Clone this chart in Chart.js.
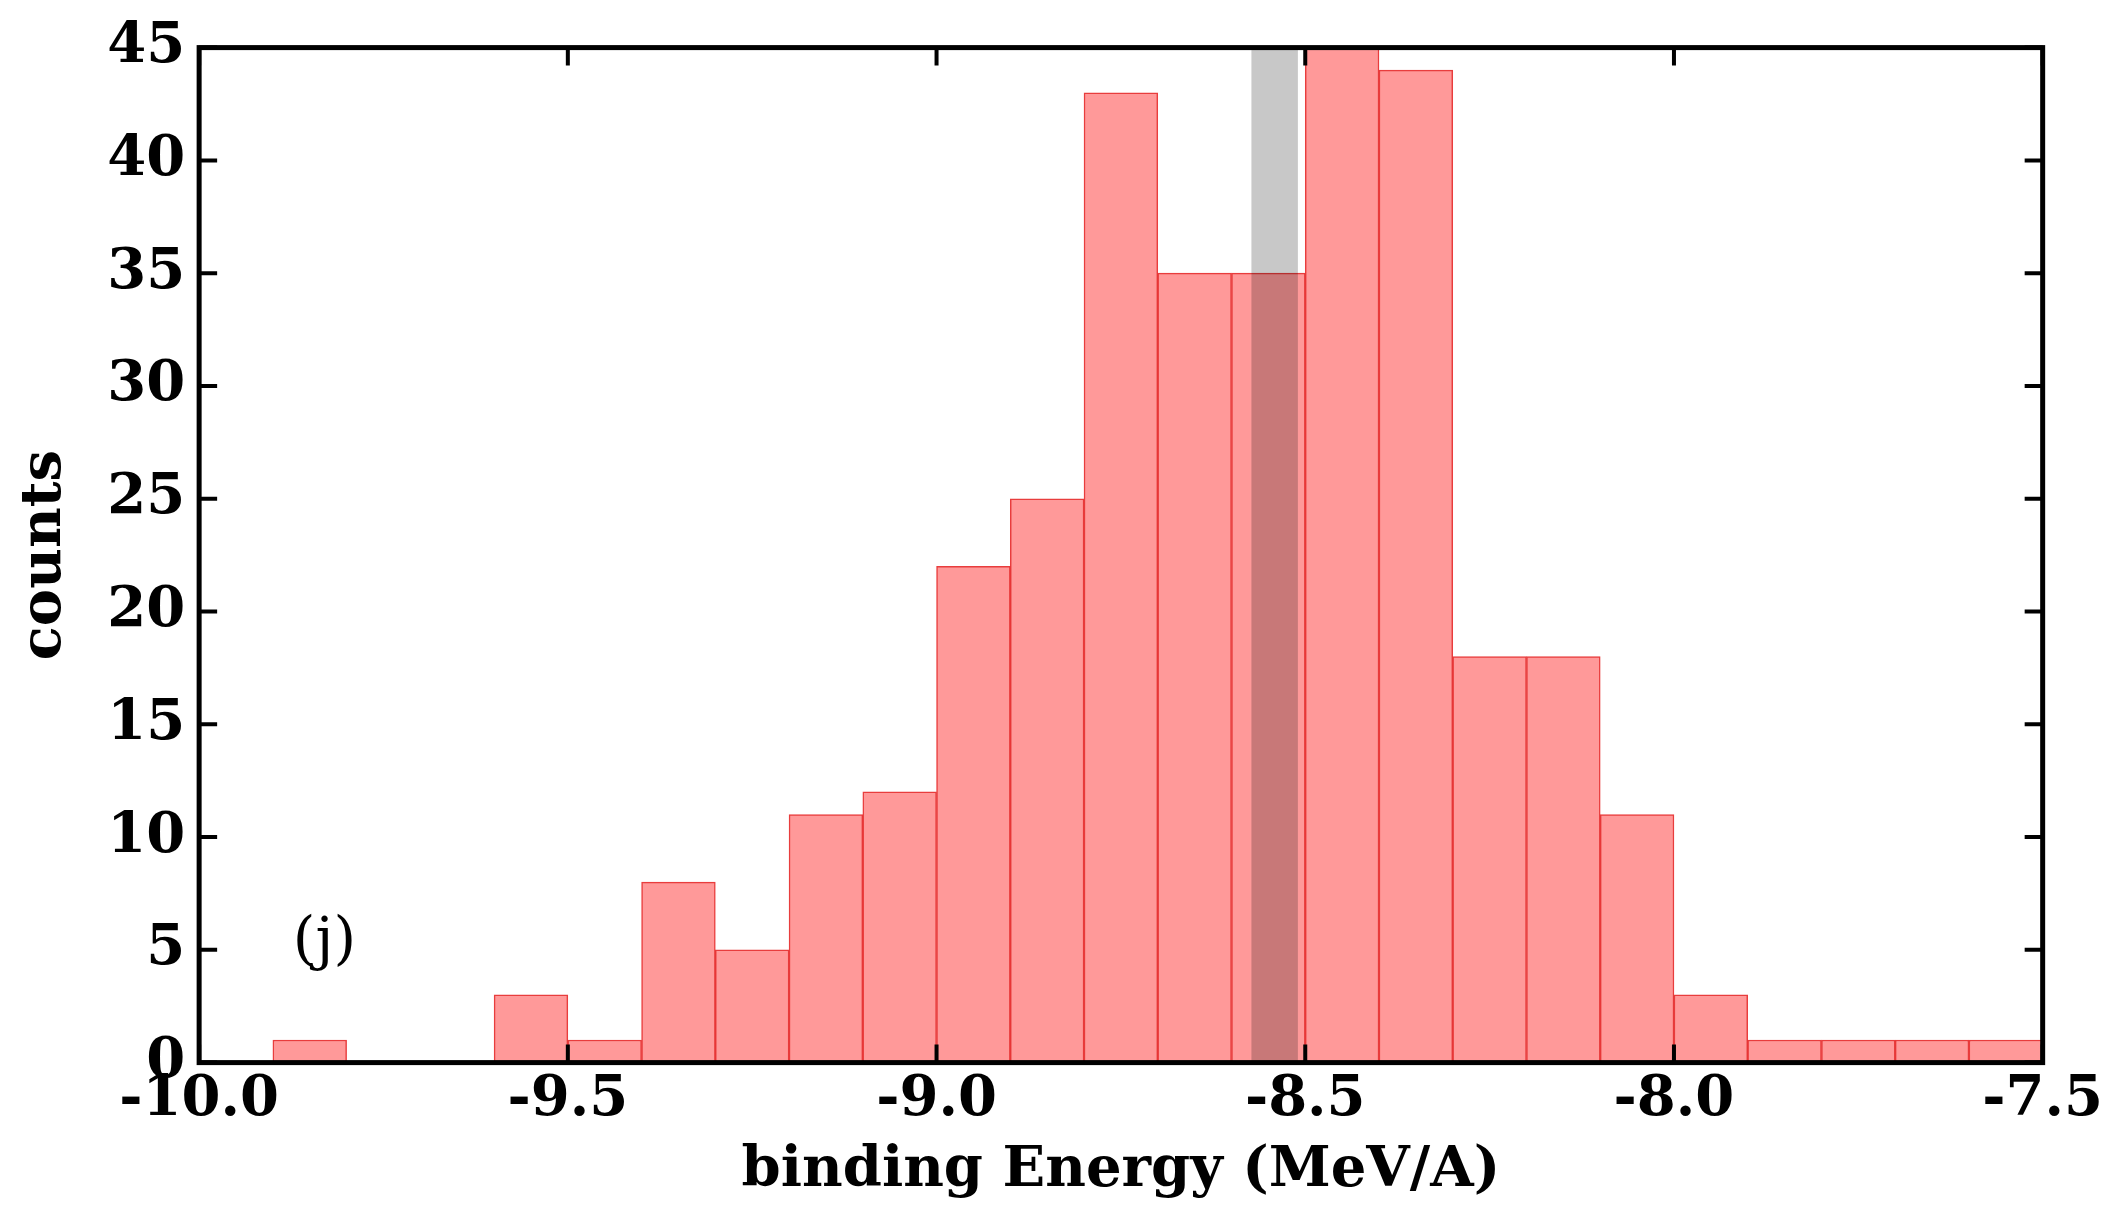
<!DOCTYPE html>
<html><head><meta charset="utf-8">
<script src="https://cdn.jsdelivr.net/npm/chart.js@4"></script>
<style>html,body{margin:0;padding:0;background:#fff}#w{width:2107px;height:1209px}</style>
</head><body><div id="w"><canvas id="c"></canvas></div>
<script>
const binCenters=[-9.95,-9.85,-9.75,-9.65,-9.55,-9.45,-9.35,-9.25,-9.15,-9.05,-8.95,-8.85,-8.75,-8.65,-8.55,-8.45,-8.35,-8.25,-8.15,-8.05,-7.95,-7.85,-7.75,-7.65,-7.55];
const counts=[0,1,0,0,3,1,8,5,11,12,22,25,43,35,35,45,44,18,18,11,3,1,1,1,1];
const band=[-8.573,-8.51];
const xTicks=[-10.0,-9.5,-9.0,-8.5,-8.0,-7.5];
const yTicks=[0,5,10,15,20,25,30,35,40,45];
const FONT={family:'"DejaVu Serif", serif',weight:'bold',size:56};
const deco={id:'deco',afterDatasetsDraw(ch){
 const c=ch.ctx,x=ch.scales.x,y=ch.scales.y,a=ch.chartArea;
 c.save();
 c.globalCompositeOperation='multiply';
 c.fillStyle='rgb(200,200,200)';
 const x0=x.getPixelForValue(band[0]),x1=x.getPixelForValue(band[1]);
 c.fillRect(x0,a.top,x1-x0,a.bottom-a.top);
 c.globalCompositeOperation='source-over';
 c.strokeStyle='#000';c.lineWidth=5;
 c.strokeRect(a.left,a.top,a.right-a.left,a.bottom-a.top);
 c.lineWidth=4;const L=18;
 xTicks.forEach(v=>{const p=x.getPixelForValue(v);c.beginPath();c.moveTo(p,a.bottom);c.lineTo(p,a.bottom-L);c.moveTo(p,a.top);c.lineTo(p,a.top+L);c.stroke();});
 yTicks.forEach(v=>{const p=y.getPixelForValue(v);c.beginPath();c.moveTo(a.left,p);c.lineTo(a.left+L,p);c.moveTo(a.right,p);c.lineTo(a.right-L,p);c.stroke();});
 c.fillStyle='#000';c.font='58px "DejaVu Serif", serif';c.textAlign='center';c.textBaseline='middle';
 c.fillText('(j)',x.getPixelForValue(-9.83),y.getPixelForValue(5.3));
 c.restore();}};
new Chart(document.getElementById('c'),{type:'bar',
 data:{datasets:[{data:binCenters.map((v,i)=>({x:v,y:counts[i]})),backgroundColor:'rgba(255,153,153,1)',borderColor:'rgba(230,40,40,0.9)',borderWidth:1.5,barPercentage:1,categoryPercentage:1,grouped:false}]},
 plugins:[deco],
 options:{responsive:true,maintainAspectRatio:false,animation:false,
  layout:{padding:{left:8,right:60,top:16,bottom:4}},
  plugins:{legend:{display:false},tooltip:{enabled:false}},
  scales:{
   x:{type:'linear',min:-10,max:-7.5,offset:false,grid:{display:false,drawTicks:false},border:{display:false},
     afterBuildTicks:s=>{s.ticks=xTicks.map(v=>({value:v}));},
     ticks:{font:FONT,color:'#000',padding:4,maxRotation:0,callback:v=>v.toFixed(1)},
     title:{display:true,text:'binding Energy (MeV/A)',font:FONT,color:'#000',padding:{top:0,bottom:0}}},
   y:{min:0,max:45,grid:{display:false,drawTicks:false},border:{display:false},
     afterBuildTicks:s=>{s.ticks=yTicks.map(v=>({value:v}));},
     ticks:{font:FONT,color:'#000',padding:14},
     title:{display:true,text:'counts',font:FONT,color:'#000',padding:{bottom:14}}}}}});
</script></body></html>
